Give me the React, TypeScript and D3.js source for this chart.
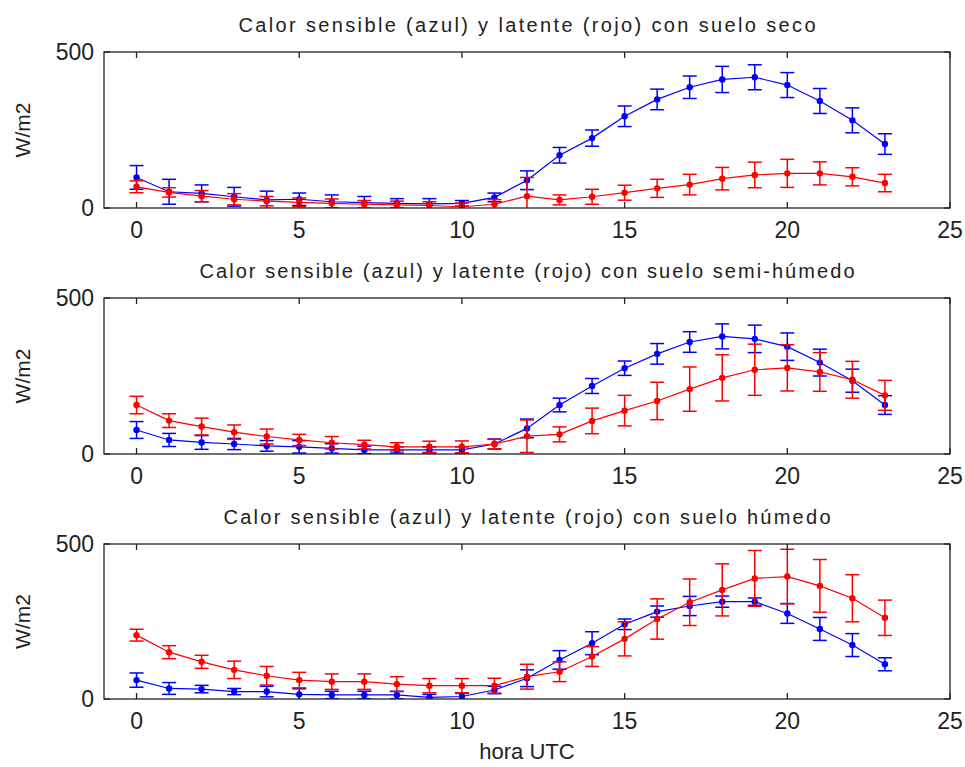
import React from "react";
import * as d3 from "d3";

const hours = [0,1,2,3,4,5,6,7,8,9,10,11,12,13,14,15,16,17,18,19,20,21,22,23];

const secoSens = [98,52,47,36,26,28,20,17,15,13,15,34,89,169,224,294,348,387,412,419,394,343,281,205];
const secoSensErr = [38,40,27,30,28,20,22,20,15,17,9,14,30,25,26,33,33,36,42,40,40,40,40,33];
const secoLat = [68,50,38,28,22,18,15,12,10,8,4,12,38,26,36,49,63,75,94,106,111,111,100,80];
const secoLatErr = [19,15,18,18,15,14,14,12,12,12,12,15,60,16,24,24,29,33,36,41,45,37,29,28];

const semiSens = [77,45,37,32,26,23,18,13,13,13,13,32,82,157,218,275,321,359,377,369,344,293,235,157];
const semiSensErr = [27,21,22,18,17,20,15,12,10,10,10,16,30,22,24,23,33,33,40,44,44,43,37,30];
const semiLat = [157,107,88,70,56,45,36,30,23,23,23,32,57,63,106,139,170,208,244,270,276,263,238,188];
const semiLatErr = [28,22,27,23,24,18,20,14,13,18,19,15,52,24,41,49,60,71,74,82,74,62,59,48];

const humSens = [61,34,32,24,24,15,13,13,13,5,8,29,67,126,180,241,282,300,314,314,276,226,174,112];
const humSensErr = [23,19,12,10,17,18,12,12,12,10,10,12,27,30,37,17,18,31,18,12,32,37,37,21];
const humLat = [206,151,120,94,75,61,56,56,48,43,43,43,72,88,137,194,258,312,352,389,395,365,325,262];
const humLatErr = [19,21,21,28,30,25,25,25,24,23,23,24,40,32,32,55,65,75,84,90,88,85,76,57];

const titles = [
  "Calor sensible (azul) y latente (rojo) con suelo seco",
  "Calor sensible (azul) y latente (rojo) con suelo semi-húmedo",
  "Calor sensible (azul) y latente (rojo) con suelo húmedo",
];
const titleWidths = [577, 655, 607];
const xTicks = [0, 5, 10, 15, 20, 25];
const yTicks = [0, 500];
const yLabel = "W/m2";
const xLabel = "hora UTC";

const panels = [
  { title: titles[0], tw: titleWidths[0], sens: secoSens, sensErr: secoSensErr, lat: secoLat, latErr: secoLatErr, top: 52, bottom: 208 },
  { title: titles[1], tw: titleWidths[1], sens: semiSens, sensErr: semiSensErr, lat: semiLat, latErr: semiLatErr, top: 298, bottom: 454 },
  { title: titles[2], tw: titleWidths[2], sens: humSens, sensErr: humSensErr, lat: humLat, latErr: humLatErr, top: 544, bottom: 699 },
];

const LEFT = 104;
const RIGHT = 950;
const FONT = "'Liberation Sans', Arial, sans-serif";

function Series({ vals, errs, color, x, y, clipId }: any) {
  const line = d3.line<number>().x((_, i) => x(hours[i])).y((v) => y(v));
  const cap = 7;
  return (
    <g clipPath={`url(#${clipId})`}>
      <path d={line(vals) || ""} fill="none" stroke={color} strokeWidth={1.2} />
      {vals.map((v: number, i: number) => {
        const cx = x(hours[i]);
        const y1 = y(v + errs[i]);
        const y0 = y(v - errs[i]);
        return (
          <g key={i} stroke={color} strokeWidth={1.5}>
            <line x1={cx} x2={cx} y1={y1} y2={y0} />
            <line x1={cx - cap} x2={cx + cap} y1={y1} y2={y1} />
            <line x1={cx - cap} x2={cx + cap} y1={y0} y2={y0} />
            <circle cx={cx} cy={y(v)} r={3.2} fill={color} stroke="none" />
          </g>
        );
      })}
    </g>
  );
}

export default function App() {
  const x = d3.scaleLinear().domain([-1, 25]).range([LEFT, RIGHT]);
  return (
    <svg width={965} height={767} style={{ position: "absolute", left: 0, top: 0, background: "#fff" }} fontFamily={FONT}>
      <rect width={965} height={767} fill="#fff" />
      {panels.map((p, k) => {
        const y = d3.scaleLinear().domain([0, 500]).range([p.bottom, p.top]);
        const clipId = `clip${k}`;
        const tl = 6;
        return (
          <g key={k}>
            <defs>
              <clipPath id={clipId}>
                <rect x={LEFT} y={p.top} width={RIGHT - LEFT} height={p.bottom - p.top} />
              </clipPath>
            </defs>
            <text x={(LEFT + RIGHT) / 2} y={p.top - 20} textAnchor="middle" fontSize={20} fill="#222"
              textLength={p.tw} lengthAdjust="spacing">{p.title}</text>
            <Series vals={p.sens} errs={p.sensErr} color="#0000ff" x={x} y={y} clipId={clipId} />
            <Series vals={p.lat} errs={p.latErr} color="#ff0000" x={x} y={y} clipId={clipId} />
            <rect x={LEFT} y={p.top} width={RIGHT - LEFT} height={p.bottom - p.top} fill="none" stroke="#222" strokeWidth={1.3} />
            {xTicks.map((t) => (
              <g key={t}>
                <line x1={x(t)} x2={x(t)} y1={p.bottom} y2={p.bottom - tl} stroke="#222" strokeWidth={1.3} />
                <line x1={x(t)} x2={x(t)} y1={p.top} y2={p.top + tl} stroke="#222" strokeWidth={1.3} />
                <text x={x(t)} y={p.bottom + 30} textAnchor="middle" fontSize={23} fill="#222">{t}</text>
              </g>
            ))}
            {yTicks.map((t) => (
              <g key={t}>
                <line x1={LEFT} x2={LEFT + tl} y1={y(t)} y2={y(t)} stroke="#222" strokeWidth={1.3} />
                <line x1={RIGHT} x2={RIGHT - tl} y1={y(t)} y2={y(t)} stroke="#222" strokeWidth={1.3} />
                <text x={94} y={y(t) + 8} textAnchor="end" fontSize={23} fill="#222">{t}</text>
              </g>
            ))}
            <text transform={`translate(30,${(p.top + p.bottom) / 2}) rotate(-90)`} textAnchor="middle" fontSize={21} fill="#222">{yLabel}</text>
          </g>
        );
      })}
      <text x={(LEFT + RIGHT) / 2} y={759} textAnchor="middle" fontSize={22} fill="#222">{xLabel}</text>
    </svg>
  );
}
